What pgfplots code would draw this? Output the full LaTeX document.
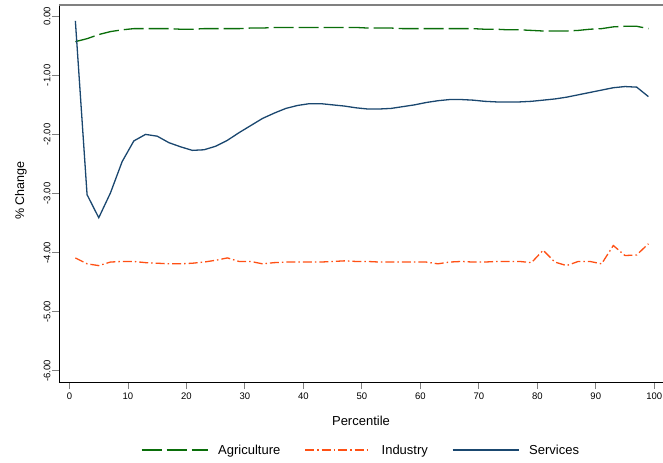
\documentclass[border=0pt]{standalone}
\usepackage{pgfplots}
\pgfplotsset{compat=1.18}
\usepackage{fontspec}
\setmainfont{Liberation Sans}
\definecolor{agri}{RGB}{10,110,10}
\definecolor{indu}{RGB}{255,80,20}
\definecolor{serv}{RGB}{26,71,111}
\tikzset{ytl/.style={rotate=90, anchor=center, inner sep=0pt, font=\fontsize{9.5}{11}\selectfont}}
\begin{document}
\begin{tikzpicture}
\begin{axis}[
  name=ax,
  scale only axis,
  width=604pt, height=377pt,
  xmin=-1.8, xmax=101.5,
  ymin=-6.19, ymax=0.19,
  axis x line*=bottom, axis y line*=left,
  axis line style={line width=0.9pt, -},
  xtick={0,10,...,100},
  ytick={-6,-5,-4,-3,-2,-1,0},
  yticklabels={},
  tick align=outside,
  major tick length=7pt,
  every tick/.append style={line width=0.9pt},
  xticklabel style={font=\fontsize{9.5}{11}\selectfont},
  /pgf/number format/assume math mode=true,
  legend columns=3,
  legend style={draw=none, fill=none, at={(0.5,-0.155)}, anchor=north, font=\fontsize{13}{15}\selectfont,
    /tikz/every odd column/.append style={column sep=8pt},
    /tikz/every even column/.append style={column sep=22pt}},
  clip=false,
]
\addplot[agri, line width=1.3pt, dash pattern=on 20pt off 5pt,
  legend image code/.code={\draw[agri, line width=1.3pt, dash pattern=on 20pt off 5pt] (0pt,0pt) -- (66pt,0pt);}] coordinates {
(1,-0.43)(3,-0.38)(5,-0.31)(7,-0.26)(9,-0.23)(11,-0.21)(13,-0.21)(15,-0.21)(17,-0.21)(19,-0.22)
(21,-0.22)(23,-0.21)(25,-0.21)(27,-0.21)(29,-0.21)(31,-0.20)(33,-0.20)(35,-0.19)(37,-0.19)(39,-0.19)
(41,-0.19)(43,-0.19)(45,-0.19)(47,-0.19)(49,-0.19)(51,-0.20)(53,-0.20)(55,-0.20)(57,-0.21)(59,-0.21)
(61,-0.21)(63,-0.21)(65,-0.21)(67,-0.21)(69,-0.21)(71,-0.22)(73,-0.22)(75,-0.23)(77,-0.23)(79,-0.24)
(81,-0.25)(83,-0.25)(85,-0.25)(87,-0.24)(89,-0.22)(91,-0.21)(93,-0.18)(95,-0.17)(97,-0.17)(99,-0.21)};
\addlegendentry{Agriculture}
\addplot[indu, line width=1.3pt, dash pattern=on 9pt off 3pt on 1.5pt off 3pt,
  legend image code/.code={\draw[indu, line width=1.3pt, dash pattern=on 9pt off 3pt on 1.5pt off 3pt] (0pt,0pt) -- (66pt,0pt);}] coordinates {
(1,-4.09)(3,-4.19)(5,-4.22)(7,-4.16)(9,-4.15)(11,-4.15)(13,-4.17)(15,-4.18)(17,-4.19)(19,-4.19)
(21,-4.18)(23,-4.16)(25,-4.13)(27,-4.09)(29,-4.15)(31,-4.15)(33,-4.19)(35,-4.17)(37,-4.16)(39,-4.16)
(41,-4.16)(43,-4.16)(45,-4.15)(47,-4.14)(49,-4.15)(51,-4.15)(53,-4.16)(55,-4.16)(57,-4.16)(59,-4.16)
(61,-4.16)(63,-4.19)(65,-4.16)(67,-4.15)(69,-4.16)(71,-4.16)(73,-4.15)(75,-4.15)(77,-4.15)(79,-4.17)
(81,-3.96)(83,-4.16)(85,-4.22)(87,-4.15)(89,-4.15)(91,-4.19)(93,-3.88)(95,-4.05)(97,-4.04)(99,-3.85)};
\addlegendentry{Industry}
\addplot[serv, line width=1.3pt,
  legend image code/.code={\draw[serv, line width=1.3pt] (0pt,0pt) -- (66pt,0pt);}] coordinates {
(1,-0.08)(3,-3.02)(5,-3.41)(7,-2.99)(9,-2.46)(11,-2.11)(13,-2.00)(15,-2.03)(17,-2.14)(19,-2.21)
(21,-2.27)(23,-2.26)(25,-2.20)(27,-2.10)(29,-1.97)(31,-1.85)(33,-1.73)(35,-1.64)(37,-1.56)(39,-1.51)
(41,-1.48)(43,-1.48)(45,-1.50)(47,-1.52)(49,-1.55)(51,-1.57)(53,-1.57)(55,-1.56)(57,-1.53)(59,-1.50)
(61,-1.46)(63,-1.43)(65,-1.41)(67,-1.41)(69,-1.42)(71,-1.44)(73,-1.45)(75,-1.45)(77,-1.45)(79,-1.44)
(81,-1.42)(83,-1.40)(85,-1.37)(87,-1.33)(89,-1.29)(91,-1.25)(93,-1.21)(95,-1.19)(97,-1.20)(99,-1.36)};
\addlegendentry{Services}
\draw[gray, line width=1.2pt] (rel axis cs:0,1) -- (rel axis cs:1,1);
\node[ytl] at ([xshift=-12pt]axis cs:-1.8,-6) {-6.00};
\node[ytl] at ([xshift=-12pt]axis cs:-1.8,-5) {-5.00};
\node[ytl] at ([xshift=-12pt]axis cs:-1.8,-4) {-4.00};
\node[ytl] at ([xshift=-12pt]axis cs:-1.8,-3) {-3.00};
\node[ytl] at ([xshift=-12pt]axis cs:-1.8,-2) {-2.00};
\node[ytl] at ([xshift=-12pt]axis cs:-1.8,-1) {-1.00};
\node[ytl] at ([xshift=-12pt]axis cs:-1.8,0) {0.00};
\node[rotate=90, font=\fontsize{12.5}{14}\selectfont] at ([xshift=-38pt]rel axis cs:0,0.508) {\% Change};
\node[font=\fontsize{13}{15}\selectfont] at ([yshift=-39pt]rel axis cs:0.5,0) {Percentile};
\end{axis}
\pgfresetboundingbox
\path ([xshift=-59pt,yshift=-80pt]ax.south west) rectangle ([yshift=5pt]ax.north east);
\end{tikzpicture}
\end{document}
